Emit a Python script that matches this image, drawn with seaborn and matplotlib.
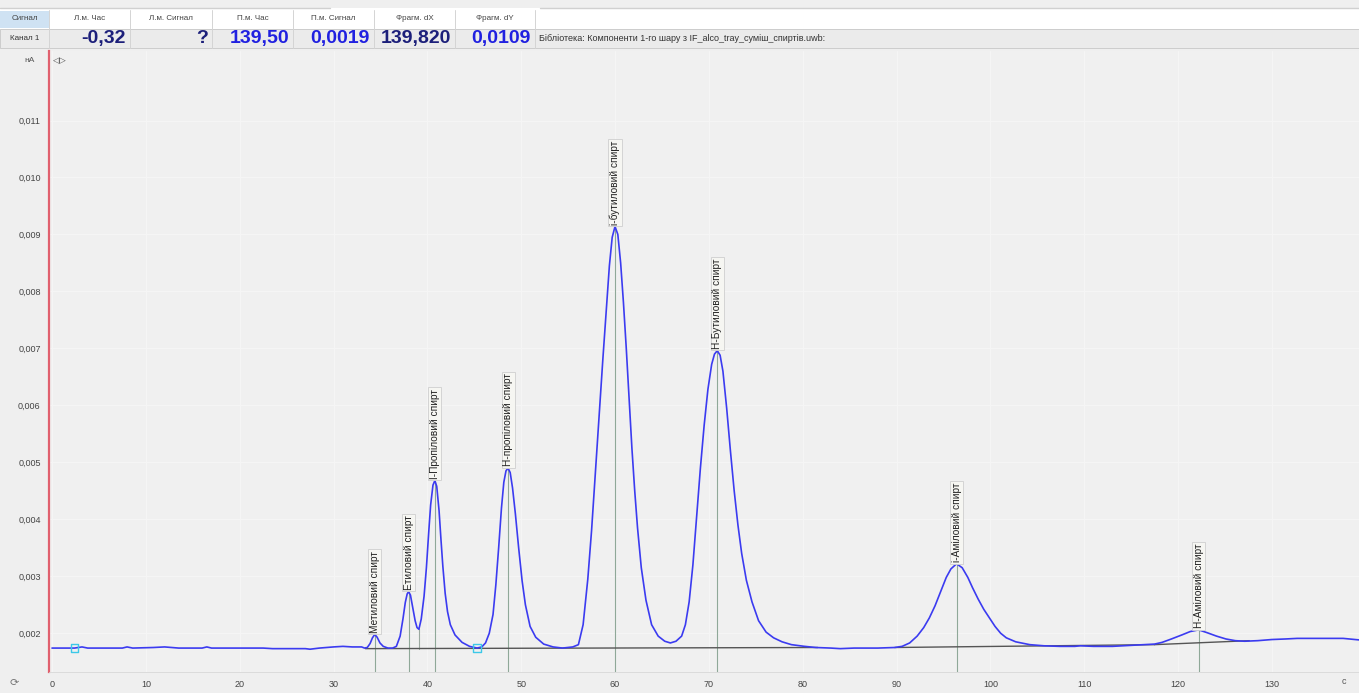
import matplotlib
matplotlib.use("Agg")
import matplotlib.pyplot as plt
import matplotlib.ticker as mticker
from matplotlib.patches import Rectangle
import seaborn as sns

# chromatogram trace: (time, c ; signal, nA)
trace = [
    (0.0, 0.00174), (1.5, 0.00174), (2.4, 0.00174), (3.2, 0.00176), (3.8, 0.00174),
    (7.5, 0.00174), (8.0, 0.00176), (8.6, 0.00174), (10.8, 0.00175), (12.0, 0.00176),
    (13.5, 0.00174), (16.0, 0.00174), (16.5, 0.00176), (17.0, 0.00174), (22.5, 0.00174),
    (23.5, 0.00173), (27.0, 0.00173), (27.5, 0.00172), (28.5, 0.00174), (30.0, 0.00176),
    (31.0, 0.00177), (32.0, 0.00176), (33.0, 0.00176), (33.3, 0.00174),
    # methyl
    (33.6, 0.00175), (33.9, 0.00182), (34.15, 0.00192), (34.4, 0.00198), (34.65, 0.00193),
    (34.95, 0.00183), (35.3, 0.00177), (35.8, 0.00174), (36.3, 0.00174),
    # ethyl
    (36.7, 0.00177), (37.1, 0.00195), (37.4, 0.00225), (37.65, 0.00254), (37.85, 0.00269),
    (38.0, 0.00273), (38.2, 0.00267), (38.45, 0.00245), (38.7, 0.00222), (38.9, 0.00210),
    (39.1, 0.00207),
    # i-propyl
    (39.35, 0.00225), (39.65, 0.00265), (39.9, 0.00315), (40.15, 0.00378), (40.35, 0.00425),
    (40.6, 0.00460), (40.8, 0.00468), (41.0, 0.00458), (41.25, 0.00415), (41.45, 0.00365),
    (41.65, 0.00318), (41.9, 0.00270), (42.15, 0.00238), (42.45, 0.00215), (42.95, 0.00197),
    (43.7, 0.00184), (44.5, 0.00177), (45.3, 0.00174),
    # n-propyl
    (45.8, 0.00176), (46.2, 0.00183), (46.6, 0.00200), (47.0, 0.00233), (47.3, 0.00285),
    (47.6, 0.00350), (47.9, 0.00420), (48.15, 0.00465), (48.38, 0.00485), (48.6, 0.00490),
    (48.83, 0.00482), (49.08, 0.00455), (49.38, 0.00410), (49.73, 0.00350), (50.1, 0.00292),
    (50.45, 0.00250), (50.95, 0.00212), (51.55, 0.00193), (52.4, 0.00181), (53.4, 0.00176),
    (54.4, 0.00174),
    # i-butyl
    (55.5, 0.00176), (56.1, 0.00180), (56.6, 0.00215), (57.1, 0.00295), (57.5, 0.00380),
    (57.9, 0.00480), (58.3, 0.00580), (58.7, 0.00680), (59.1, 0.00775), (59.4, 0.00845),
    (59.7, 0.00895), (60.0, 0.00914), (60.3, 0.00900), (60.6, 0.00850), (60.9, 0.00780),
    (61.2, 0.00700), (61.5, 0.00612), (61.8, 0.00525), (62.1, 0.00450), (62.4, 0.00385),
    (62.8, 0.00315), (63.3, 0.00258), (63.9, 0.00215), (64.6, 0.00195), (65.3, 0.00186),
    (65.9, 0.00183), (66.5, 0.00186),
    # n-butyl
    (67.1, 0.00195), (67.5, 0.00215), (67.9, 0.00255), (68.3, 0.00320), (68.7, 0.00405),
    (69.1, 0.00490), (69.5, 0.00565), (69.9, 0.00628), (70.3, 0.00672), (70.6, 0.00690),
    (70.9, 0.00696), (71.2, 0.00688), (71.5, 0.00660), (71.9, 0.00595), (72.3, 0.00520),
    (72.7, 0.00450), (73.1, 0.00390), (73.5, 0.00340), (74.0, 0.00293), (74.6, 0.00255),
    (75.3, 0.00222), (76.1, 0.00202), (76.9, 0.00192), (77.8, 0.00185), (78.8, 0.00180),
    (80.2, 0.00177), (81.4, 0.00175), (83.0, 0.00174), (84.0, 0.00173), (85.5, 0.00174),
    (88.0, 0.00174),
    # i-amyl
    (89.8, 0.00175), (90.6, 0.00177), (91.4, 0.00183), (92.2, 0.00195), (92.9, 0.00210),
    (93.5, 0.00227), (94.1, 0.00248), (94.7, 0.00273), (95.3, 0.00298), (95.8, 0.00313),
    (96.4, 0.00322), (97.0, 0.00315), (97.6, 0.00298), (98.1, 0.00280), (98.7, 0.00260),
    (99.3, 0.00242), (99.9, 0.00227), (100.5, 0.00212), (101.1, 0.00200), (101.7, 0.00192),
    (102.7, 0.00185), (104.2, 0.00180), (105.7, 0.00178), (107.4, 0.00177), (109.0, 0.00177),
    (109.6, 0.00178), (111.0, 0.00177), (113.0, 0.00177), (115.3, 0.00179), (116.5, 0.00180),
    (117.5, 0.00181),
    # n-amyl
    (118.3, 0.00184), (119.3, 0.00190), (120.4, 0.00197), (121.3, 0.00203), (122.2, 0.00206),
    (123.1, 0.00201), (124.1, 0.00195), (125.1, 0.00190), (126.1, 0.00187), (127.1, 0.00186),
    (128.5, 0.00187), (130.0, 0.00189), (131.5, 0.00190), (132.7, 0.00191), (135.0, 0.00191),
    (137.6, 0.00191), (139.5, 0.00188),
]
time = [p[0] for p in trace]
signal = [p[1] for p in trace]

peak_names = ["Метиловий спирт", "Етиловий спирт", "І-Пропіловий спирт",
              "Н-пропіловий спирт", "і-бутиловий спирт", "Н-Бутиловий спирт",
              "і-Аміловий спирт", "Н-Аміловий спирт"]
peak_time = [34.4, 38.0, 40.8, 48.6, 60.0, 70.9, 96.4, 122.2]
peak_height = [0.00198, 0.00273, 0.00468, 0.00490, 0.00914, 0.00696, 0.00322, 0.00206]

# integration baselines
base_t = [[33.4, 81.6], [89.8, 117.5], [117.5, 127.6]]
base_s = [[0.00173, 0.00175], [0.00175, 0.00180], [0.00180, 0.00187]]

marker_t = [2.4, 45.3]
marker_s = [0.00174, 0.00174]

header_names = ["Сигнал", "Л.м. Час", "Л.м. Сигнал", "П.м. Час", "П.м. Сигнал",
                "Фрагм. dX", "Фрагм. dY"]
header_values = ["Канал 1", "-0,32", "?", "139,50", "0,0019", "139,820", "0,0109"]
header_colors = ["#333333", "#1c1f7a", "#1c1f7a", "#2020e0", "#2020e0", "#1c1f7a", "#2020e0"]
library_text = "Бібліотека: Компоненти 1-го шару з IF_alco_tray_суміш_спиртів.uwb:"

sns.set_theme(style="white")
plt.rcParams["font.family"] = ["Liberation Sans", "DejaVu Sans"]

W, H = 1359, 693
fig = plt.figure(figsize=(W / 100, H / 100), dpi=100)
fig.patch.set_facecolor("#efefef")


def fx(x):
    return x / W


def fy(y):
    return 1 - y / H


# header panel
fig.patches.append(Rectangle((0, fy(29)), 1, fy(8) - fy(29), transform=fig.transFigure,
                             facecolor="white", edgecolor="none", zorder=0))
fig.patches.append(Rectangle((0, fy(48)), 1, fy(29) - fy(48), transform=fig.transFigure,
                             facecolor="#ebebeb", edgecolor="#c8c8c8", lw=0.6, zorder=0))
fig.patches.append(Rectangle((0, fy(28)), fx(49), fy(11) - fy(28), transform=fig.transFigure,
                             facecolor="#cfe2f3", edgecolor="none", zorder=1))
fig.add_artist(plt.Line2D([0, fx(330)], [fy(8), fy(8)], color="#d0d0d0", lw=1))
fig.add_artist(plt.Line2D([fx(540), 1], [fy(8), fy(8)], color="#d0d0d0", lw=1))

col_right = [49, 130, 212, 293, 374, 455, 535]
col_left = [0, 49, 130, 212, 293, 374, 455]
for i, (nm, val, c) in enumerate(zip(header_names, header_values, header_colors)):
    cx = (col_left[i] + col_right[i]) / 2
    fig.text(fx(cx), fy(19), nm, fontsize=5.8, color="#444444", ha="center", va="center")
    if i == 0:
        fig.text(fx(cx), fy(38.5), val, fontsize=5.8, color="#333333", ha="center", va="center")
    else:
        fig.text(fx(col_right[i] - 4), fy(38.5), val, fontsize=14, fontweight="bold",
                 color=c, ha="right", va="center")
    fig.add_artist(plt.Line2D([fx(col_right[i])] * 2, [fy(10), fy(48)], color="#d4d4d4", lw=0.7))
fig.text(fx(539), fy(38.5), library_text, fontsize=6.5, color="#333333", ha="left", va="center")

# plot area (right edge runs just past the picture, as in the reference)
ax = fig.add_axes([fx(49), fy(672), fx(1361) - fx(49), fy(51) - fy(672)])
ax.set_facecolor("#f0f0f0")

for bt, bs in zip(base_t, base_s):
    sns.lineplot(x=bt, y=bs, ax=ax, color="#555555", lw=1.0, estimator=None, sort=False)

ymin, ymax = 0.00132, 0.01222
for t, h in zip(peak_time, peak_height):
    ax.plot([t, t], [ymin, h], color="#8fa898", lw=0.8, zorder=1)
ax.plot([39.1, 39.1], [0.00173, 0.00207], color="#9aa89f", lw=0.8, zorder=1)

sns.lineplot(x=time, y=signal, ax=ax, color="#3b3bf0", lw=1.2, estimator=None, sort=False,
             zorder=3)
sns.scatterplot(x=marker_t, y=marker_s, ax=ax, marker="s", s=28, facecolor="none",
                edgecolor="#3cc8e8", linewidth=1.0, zorder=4)

for name, t, h in zip(peak_names, peak_time, peak_height):
    ax.text(t, h + 0.00003, name, rotation=90, ha="center", va="bottom", fontsize=7.3,
            color="#222222", zorder=5,
            bbox=dict(boxstyle="square,pad=0.15", facecolor="#f6f6f2", edgecolor="#cfcfcf",
                      lw=0.6))

ax.set_xlim(-0.32, 139.5)
ax.set_ylim(ymin, ymax)
ax.xaxis.set_major_locator(mticker.MultipleLocator(10))
ax.xaxis.set_minor_locator(mticker.MultipleLocator(2))
ax.yaxis.set_major_locator(mticker.FixedLocator([0.002, 0.003, 0.004, 0.005, 0.006,
                                                 0.007, 0.008, 0.009, 0.010, 0.011]))
ax.yaxis.set_minor_locator(mticker.MultipleLocator(0.0002))
ax.yaxis.set_major_formatter(mticker.FuncFormatter(lambda v, p: f"{v:.3f}".replace(".", ",")))
ax.xaxis.set_major_formatter(mticker.FuncFormatter(lambda v, p: f"{v:.0f}"))
ax.tick_params(axis="both", which="major", labelsize=6.5, colors="#777777", labelcolor="#444444",
               length=4, width=0.6, direction="out", pad=2)
ax.tick_params(axis="both", which="minor", colors="#999999", length=2, width=0.5, direction="out")
ax.grid(True, which="major", color="#f5f5f5", lw=0.8)
ax.set_axisbelow(True)
for side in ["top", "right"]:
    ax.spines[side].set_visible(False)
ax.spines["bottom"].set_color("#d8d8d8")
ax.spines["bottom"].set_linewidth(0.6)
ax.spines["left"].set_color("#e0606e")
ax.spines["left"].set_linewidth(1.6)
ax.set_xlabel("")
ax.set_ylabel("")

fig.text(fx(30), fy(60), "нА", fontsize=6, color="#555555", ha="center", va="center")
fig.text(fx(60), fy(60), "◁▷", fontsize=6.5, color="#555555", ha="center", va="center",
         family=["DejaVu Sans"])
fig.text(fx(1344), fy(682), "c", fontsize=6.5, color="#555555", ha="center", va="center")
fig.text(fx(14), fy(683), "⟳", fontsize=8, color="#777777", ha="center", va="center",
         family=["DejaVu Sans"])

fig.savefig("out.png", dpi=100, facecolor=fig.get_facecolor())
